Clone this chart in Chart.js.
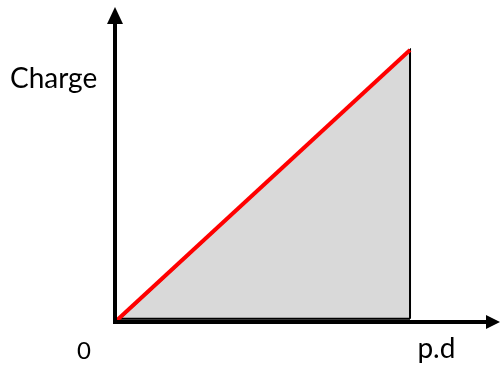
<!DOCTYPE html>
<html>
<head>
<meta charset="utf-8">
<script src="https://cdn.jsdelivr.net/npm/chart.js@4/dist/chart.umd.min.js"></script>
<style>
  html, body { margin: 0; padding: 0; background: #fff; }
  #wrap { width: 502px; height: 365px; }
</style>
</head>
<body>
<div id="wrap"><canvas id="chargeChart"></canvas></div>
<script>
// Charge vs p.d - straight line through origin, area under it shaded
const pdValues = [0, 10];
const chargeValues = [0, 10];
const shadeX = [0.15, 10, 10];
const shadeY = [0.12, 10, 0.12];
const baseX = [0.15, 10];
const baseY = [0.12, 0.12];
const axisMax = { x: 13.05, y: 11.58 };
const axisLabels = { y: 'Charge', x: 'p.d', origin: '0' };

// axes with arrow heads + labels, positioned from the scales
const axesPlugin = {
    id: 'arrowAxes',
    afterDraw(chart) {
        const ctx = chart.ctx;
        const xs = chart.scales.x;
        const ys = chart.scales.y;
        const x0 = xs.getPixelForValue(0);
        const y0 = ys.getPixelForValue(0);
        const xEnd = xs.getPixelForValue(axisMax.x);
        const yEnd = ys.getPixelForValue(axisMax.y);

        ctx.save();
        ctx.strokeStyle = '#000';
        ctx.fillStyle = '#000';
        ctx.lineWidth = 4;
        ctx.beginPath();
        ctx.moveTo(x0, y0);
        ctx.lineTo(x0, yEnd + 14);
        ctx.moveTo(x0 - 2, y0);
        ctx.lineTo(xEnd - 14, y0);
        ctx.stroke();

        // arrow heads
        ctx.beginPath();
        ctx.moveTo(x0, yEnd);
        ctx.lineTo(x0 - 8, yEnd + 17);
        ctx.lineTo(x0 + 8, yEnd + 17);
        ctx.closePath();
        ctx.fill();
        ctx.beginPath();
        ctx.moveTo(xEnd, y0);
        ctx.lineTo(xEnd - 14, y0 - 7);
        ctx.lineTo(xEnd - 14, y0 + 7);
        ctx.closePath();
        ctx.fill();

        // labels
        ctx.textBaseline = 'alphabetic';
        ctx.textAlign = 'left';
        ctx.font = '28px Lato, "Open Sans", sans-serif';
        ctx.fillText(axisLabels.y, x0 - 105, ys.getPixelForValue(8.6));
        ctx.fillText(axisLabels.x, xs.getPixelForValue(10.25), y0 + 36);
        ctx.font = '24px Lato, "Open Sans", sans-serif';
        ctx.fillText(axisLabels.origin, x0 - 38, y0 + 37);
        ctx.restore();
    }
};

const ctx = document.getElementById('chargeChart');
new Chart(ctx, {
    type: 'line',
    data: {
        datasets: [
            {
                label: 'Charge',
                data: pdValues.map((v, i) => ({ x: v, y: chargeValues[i] })),
                borderColor: '#ff0000',
                borderWidth: 4,
                pointRadius: 0,
                fill: false,
                order: 0
            },
            {
                label: 'Base',
                data: baseX.map((v, i) => ({ x: v, y: baseY[i] })),
                borderColor: '#000000',
                borderWidth: 2,
                pointRadius: 0,
                fill: false,
                order: 1
            },
            {
                label: 'Area',
                data: shadeX.map((v, i) => ({ x: v, y: shadeY[i] })),
                borderColor: '#000000',
                borderWidth: 2,
                backgroundColor: '#d9d9d9',
                pointRadius: 0,
                fill: 'origin',
                order: 2
            }
        ]
    },
    options: {
        responsive: true,
        maintainAspectRatio: false,
        animation: false,
        layout: { padding: { left: 115, right: 2, top: 7, bottom: 43 } },
        plugins: {
            legend: { display: false },
            tooltip: { enabled: false }
        },
        scales: {
            x: { type: 'linear', min: 0, max: axisMax.x, display: false },
            y: { type: 'linear', min: 0, max: axisMax.y, display: false }
        }
    },
    plugins: [axesPlugin]
});
</script>
</body>
</html>
